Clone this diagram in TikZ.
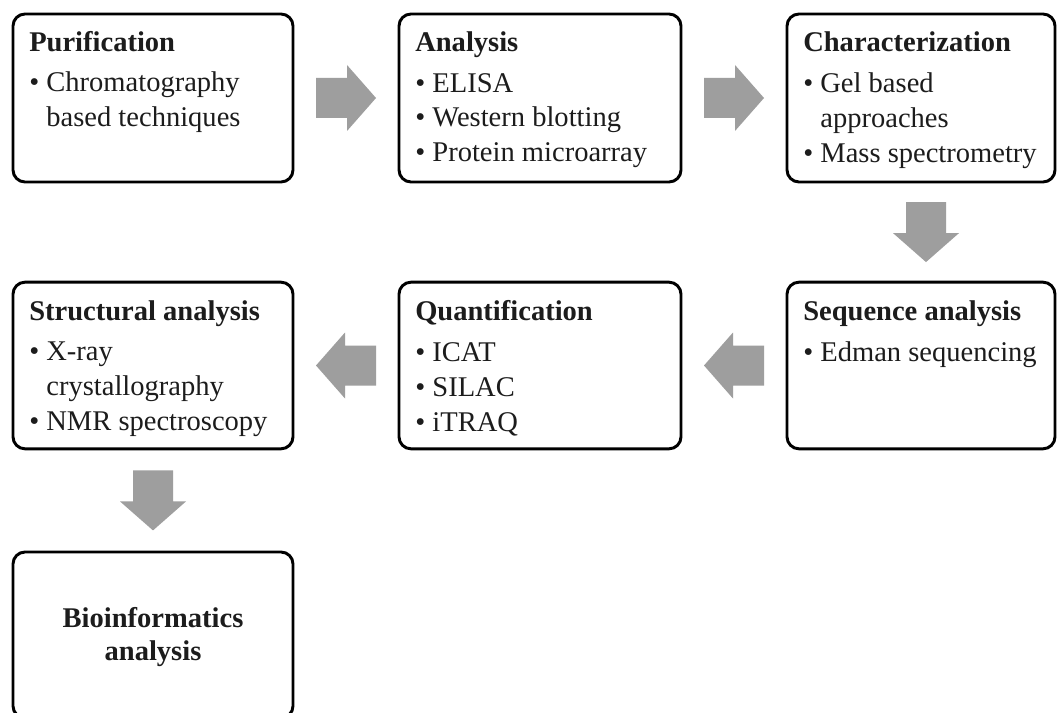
\documentclass[tikz,border=0pt]{standalone}
\usepackage{fontspec}
\setmainfont{Liberation Serif}
\usetikzlibrary{calc}
\definecolor{arrowgray}{RGB}{158,158,158}
\definecolor{txt}{RGB}{28,28,28}
\newcommand{\fsz}{\fontsize{21.4pt}{26pt}\selectfont}
\newcommand{\bul}{\textbullet\ }
\newcommand{\ind}{\phantom{\textbullet\ }}
\begin{document}
\begin{tikzpicture}[x=0.75pt,y=-0.75pt,
  stagebox/.style={draw=black, line width=2.2pt, rounded corners=9pt, fill=white,
                   rectangle, inner sep=0pt, outer sep=0pt},
  hd/.style={anchor=base west, inner sep=0pt, text=txt, font=\fsz\bfseries},
  itm/.style={anchor=base west, inner sep=0pt, text=txt, font=\fsz},
  blockarrow/.pic={\fill[arrowgray] (-30,-20) -- (1,-20) -- (1,-33) -- (30,0) -- (1,33) -- (1,20) -- (-30,20) -- cycle;}
]
\useasboundingbox (0,0) rectangle (1057,713);
\fill[white] (0,0) rectangle (1057,713);

% boxes
\node[stagebox, minimum width=210pt, minimum height=126pt] (pur) at (153,98) {};
\node[stagebox, minimum width=211.5pt, minimum height=126pt] (ana) at (540,98) {};
\node[stagebox, minimum width=201pt, minimum height=126pt] (cha) at (921,98) {};
\node[stagebox, minimum width=210pt, minimum height=125pt] (str) at (153,365.5) {};
\node[stagebox, minimum width=211.5pt, minimum height=125pt] (qua) at (540,365.5) {};
\node[stagebox, minimum width=201pt, minimum height=125pt] (seq) at (921,365.5) {};
\node[stagebox, minimum width=210pt, minimum height=124.5pt] (bio) at (153,635) {};

% texts: Purification
\node[hd]  (pur0) at ([shift={(16,38)}]pur.north west) {Purification};
\node[itm] (pur1) at ([shift={(16,78)}]pur.north west) {\bul Chromatography};
\node[itm] (pur2) at ([shift={(16,113)}]pur.north west) {\ind based techniques};
% Analysis
\node[hd]  (ana0) at ([shift={(16,38)}]ana.north west) {Analysis};
\node[itm] (ana1) at ([shift={(16,79)}]ana.north west) {\bul ELISA};
\node[itm] (ana2) at ([shift={(16,113)}]ana.north west) {\bul Western blotting};
\node[itm] (ana3) at ([shift={(16,148)}]ana.north west) {\bul Protein microarray};
% Characterization
\node[hd]  (cha0) at ([shift={(16,38)}]cha.north west) {Characterization};
\node[itm] (cha1) at ([shift={(16,79)}]cha.north west) {\bul Gel based};
\node[itm] (cha2) at ([shift={(16,114)}]cha.north west) {\ind approaches};
\node[itm] (cha3) at ([shift={(16,149)}]cha.north west) {\bul Mass spectrometry};
% Structural analysis
\node[hd]  (str0) at ([shift={(16,38)}]str.north west) {Structural analysis};
\node[itm] (str1) at ([shift={(16,78)}]str.north west) {\bul X-ray};
\node[itm] (str2) at ([shift={(16,113)}]str.north west) {\ind crystallography};
\node[itm] (str3) at ([shift={(16,148)}]str.north west) {\bul NMR spectroscopy};
% Quantification
\node[hd]  (qua0) at ([shift={(16,38)}]qua.north west) {Quantification};
\node[itm] (qua1) at ([shift={(16,79)}]qua.north west) {\bul ICAT};
\node[itm] (qua2) at ([shift={(16,114)}]qua.north west) {\bul SILAC};
\node[itm] (qua3) at ([shift={(16,149)}]qua.north west) {\bul iTRAQ};
% Sequence analysis
\node[hd]  (seq0) at ([shift={(16,38)}]seq.north west) {Sequence analysis};
\node[itm] (seq1) at ([shift={(16,79)}]seq.north west) {\bul Edman sequencing};
% Bioinformatics
\node[anchor=base, inner sep=0pt, text=txt, font=\fsz\bfseries] (bio0) at ([shift={(0,75)}]bio.north) {Bioinformatics};
\node[anchor=base, inner sep=0pt, text=txt, font=\fsz\bfseries] (bio1) at ([shift={(0,108)}]bio.north) {analysis};

% block arrows
\pic at ($(pur.east)!0.5!(ana.west)$) {blockarrow};
\pic at ($(ana.east)!0.5!(cha.west)$) {blockarrow};
\pic[rotate=-90] at ($(cha.south)!0.5!(seq.north)+(5,0)$) {blockarrow};
\pic[rotate=180] at ($(seq.west)!0.5!(qua.east)$) {blockarrow};
\pic[rotate=180] at ($(qua.west)!0.5!(str.east)$) {blockarrow};
\pic[rotate=-90] at ($(str.south)!0.5!(bio.north)$) {blockarrow};
\end{tikzpicture}
\end{document}
